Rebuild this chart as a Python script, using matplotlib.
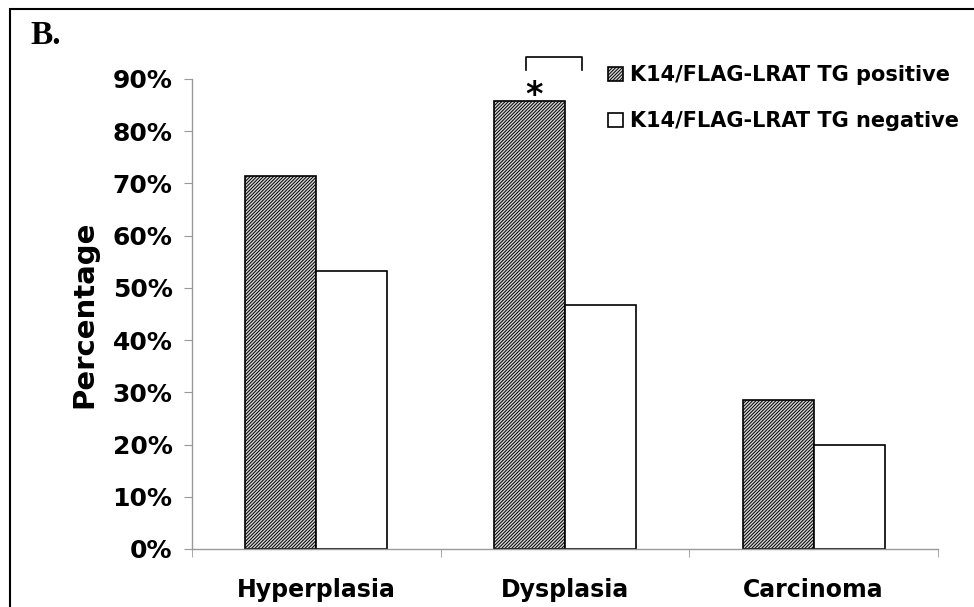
import matplotlib
matplotlib.use("Agg")
import matplotlib.pyplot as plt
from matplotlib.patches import Rectangle
from matplotlib.ticker import PercentFormatter
import numpy as np

categories = ["Hyperplasia", "Dysplasia", "Carcinoma"]
tg_positive = [0.714, 0.857, 0.286]
tg_negative = [0.533, 0.467, 0.200]
series_labels = ["K14/FLAG-LRAT TG positive", "K14/FLAG-LRAT TG negative"]
yticks = [0.0, 0.1, 0.2, 0.3, 0.4, 0.5, 0.6, 0.7, 0.8, 0.9]

plt.rcParams["hatch.linewidth"] = 0.7
plt.rcParams["hatch.color"] = "#505050"

fig = plt.figure(figsize=(9.74, 6.07), dpi=100)
ax = fig.add_axes([192/974, 1-549/607, (938-192)/974, (549-79)/607])

x = np.arange(len(categories))
w = 0.285
ax.bar(x - w/2, tg_positive, w, facecolor="#d4d4d4", edgecolor="black",
       hatch="//////////", linewidth=1.2, label=series_labels[0])
ax.bar(x + w/2, tg_negative, w, facecolor="white", edgecolor="black",
       linewidth=1.2, label=series_labels[1])

ax.set_xlim(-0.5, 2.5)
ax.set_ylim(0, 0.9)
ax.set_yticks(yticks)
ax.yaxis.set_major_formatter(PercentFormatter(1.0, decimals=0))
ax.set_xticks(x)
ax.set_xticklabels(categories, fontsize=17, fontweight="bold")
ax.set_xticks([-0.5, 0.5, 1.5, 2.5], minor=True)
ax.tick_params(axis="x", which="major", length=0, pad=21)
ax.tick_params(axis="x", which="minor", length=6, color="#999999", direction="out")
ax.tick_params(axis="y", length=6, color="#999999", labelsize=18, pad=8)
for lab in ax.get_yticklabels():
    lab.set_fontweight("bold")
for s in ["top", "right"]:
    ax.spines[s].set_visible(False)
for s in ["left", "bottom"]:
    ax.spines[s].set_color("#999999")
    ax.spines[s].set_linewidth(1.0)

ax.set_ylabel("Percentage", fontsize=21, fontweight="bold", labelpad=10)

# significance bracket
ax.plot([0.843, 0.843, 1.068, 1.068], [0.918, 0.942, 0.942, 0.918],
        color="black", lw=1.2, clip_on=False)
ax.text(0.875, 0.868, "*", ha="center", va="center", fontsize=24,
        fontweight="bold", clip_on=False)

ax.legend(loc="upper left", bbox_to_anchor=(600/974, 1-57/607),
          bbox_transform=fig.transFigure, frameon=False,
          prop={"weight": "bold", "size": 15},
          handlelength=0.7, handleheight=0.7, handletextpad=0.35,
          labelspacing=1.25, borderaxespad=0)

fig.text(30/974, 1-36/607, "B.", fontsize=24, fontweight="bold",
         family="Liberation Serif", ha="left", va="center")

fig.patches.append(Rectangle((10/974, -0.05), 1.2, 1-9/607+0.05,
                             transform=fig.transFigure, fill=False,
                             edgecolor="black", linewidth=1.5))

fig.savefig("out.png", dpi=100)
